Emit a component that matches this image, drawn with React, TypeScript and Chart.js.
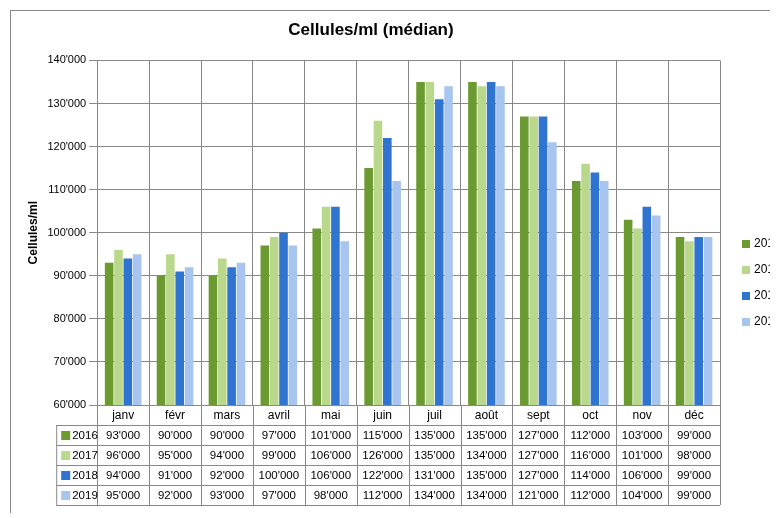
import { useEffect, useRef } from 'react';
import { Chart, registerables } from 'chart.js';

Chart.register(...registerables);

const months = ['janv', 'févr', 'mars', 'avril', 'mai', 'juin', 'juil', 'août', 'sept', 'oct', 'nov', 'déc'];
const years = ['2016', '2017', '2018', '2019'];
const v2016 = [93000, 90000, 90000, 97000, 101000, 115000, 135000, 135000, 127000, 112000, 103000, 99000];
const v2017 = [96000, 95000, 94000, 99000, 106000, 126000, 135000, 134000, 127000, 116000, 101000, 98000];
const v2018 = [94000, 91000, 92000, 100000, 106000, 122000, 131000, 135000, 127000, 114000, 106000, 99000];
const v2019 = [95000, 92000, 93000, 97000, 98000, 112000, 134000, 134000, 121000, 112000, 104000, 99000];
const colors = ['#6b9a30', '#bad88c', '#2f74d0', '#a8c5ef'];

const fmt = (n: number) => String(n).replace(/\B(?=(\d{3})+(?!\d))/g, "'");
const FONT = '"Liberation Sans", Arial, sans-serif';

export default function App() {
  const canvasRef = useRef<HTMLCanvasElement>(null);

  useEffect(() => {
    if (!canvasRef.current) return;
    const series = [v2016, v2017, v2018, v2019];
    const rowH = 20;

    const chart = new Chart(canvasRef.current, {
      type: 'bar',
      data: {
        labels: months,
        datasets: series.map((d, i) => ({
          label: years[i],
          data: d,
          backgroundColor: colors[i],
          categoryPercentage: 0.72,
          barPercentage: 0.92,
        })),
      },
      options: {
        animation: false,
        responsive: false,
        layout: { padding: { left: 14, right: 78, bottom: 108, top: 0 } },
        plugins: {
          legend: { display: false },
          tooltip: { enabled: false },
          title: {
            display: true,
            text: 'Cellules/ml (médian)',
            color: '#000',
            font: { family: FONT, size: 17, weight: 'bold' },
            padding: { top: 12, bottom: 20 },
          },
        },
        scales: {
          x: {
            ticks: { display: false },
            grid: { color: '#888', offset: true, drawTicks: false },
            border: { color: '#888' },
          },
          y: {
            min: 60000,
            max: 140000,
            ticks: { stepSize: 10000, callback: (v) => fmt(Number(v)), color: '#000', font: { family: FONT, size: 11 } },
            grid: { color: '#888' },
            border: { color: '#888' },
            title: { display: true, text: 'Cellules/ml', color: '#000', font: { family: FONT, size: 12, weight: 'bold' } },
          },
        },
      },
      plugins: [
        {
          id: 'tableAndLegend',
          afterDraw(c) {
            const { ctx, chartArea } = c;
            const xs = c.scales.x;
            const top = chartArea.bottom;
            const n = months.length;
            const w = (chartArea.right - chartArea.left) / n;
            const left0 = chartArea.left - 41;
            ctx.save();
            ctx.strokeStyle = '#888';
            ctx.lineWidth = 1;
            ctx.strokeRect(2.5, 2.5, 800, 505);
            ctx.beginPath();
            for (let r = 0; r <= 5; r++) {
              const y = top + r * rowH + 0.5;
              const x0 = r === 0 ? chartArea.left : left0;
              ctx.moveTo(x0, y);
              ctx.lineTo(chartArea.right, y);
            }
            for (let i = 0; i <= n; i++) {
              const x = Math.round(chartArea.left + i * w) + 0.5;
              ctx.moveTo(x, top);
              ctx.lineTo(x, top + 5 * rowH);
            }
            ctx.moveTo(left0 + 0.5, top + rowH);
            ctx.lineTo(left0 + 0.5, top + 5 * rowH);
            ctx.stroke();
            ctx.fillStyle = '#000';
            ctx.font = `12px ${FONT}`;
            ctx.textAlign = 'center';
            ctx.textBaseline = 'middle';
            months.forEach((m, i) => ctx.fillText(m, xs.getPixelForValue(i), top + rowH / 2 + 1));
            ctx.font = `11.5px ${FONT}`;
            series.forEach((d, r) => {
              const y = top + (r + 1.5) * rowH + 1;
              d.forEach((v, i) => ctx.fillText(fmt(v), xs.getPixelForValue(i), y));
              ctx.fillStyle = colors[r];
              ctx.fillRect(left0 + 5, y - 5, 9, 9);
              ctx.fillStyle = '#000';
              ctx.textAlign = 'left';
              ctx.fillText(years[r], left0 + 16, y);
              ctx.textAlign = 'center';
            });
            ctx.font = `12px ${FONT}`;
            ctx.textAlign = 'left';
            years.forEach((yr, i) => {
              const y = 236 + i * 26;
              ctx.fillStyle = colors[i];
              ctx.fillRect(chartArea.right + 22, y - 4, 8, 8);
              ctx.fillStyle = '#000';
              ctx.fillText(yr, chartArea.right + 34, y);
            });
            ctx.restore();
          },
        },
      ],
    });
    return () => chart.destroy();
  }, []);

  return <canvas ref={canvasRef} width={790} height={505} style={{ display: 'block' }} />;
}
